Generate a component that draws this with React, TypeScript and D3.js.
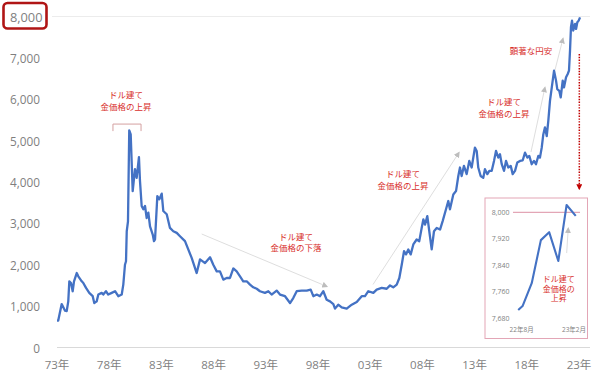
import React from 'react';
import * as d3 from 'd3';

// Gold price (JPY per gram)
const dates = [
  1973.00, 1973.12, 1973.45, 1973.77, 1973.93, 1974.08, 1974.18, 1974.34, 1974.50, 1974.63,
  1974.89, 1975.04, 1975.37, 1975.52, 1975.78, 1976.09, 1976.42, 1976.57, 1976.80, 1976.96,
  1977.28, 1977.43, 1977.69, 1977.91, 1978.24, 1978.56, 1978.87, 1979.20, 1979.35, 1979.51,
  1979.61, 1979.68, 1979.80, 1979.92, 1980.06, 1980.25, 1980.47, 1980.63, 1980.85, 1980.95,
  1981.11, 1981.27, 1981.43, 1981.59, 1981.75, 1981.91, 1982.17, 1982.29, 1982.39, 1982.61,
  1982.80, 1983.03, 1983.18, 1983.51, 1983.82, 1984.14, 1984.47, 1984.78, 1985.26, 1985.90,
  1986.38, 1986.70, 1987.18, 1987.66, 1987.97, 1988.30, 1988.61, 1988.93, 1989.25, 1989.57,
  1989.89, 1990.21, 1990.53, 1990.84, 1991.17, 1991.49, 1991.80, 1992.13, 1992.44, 1992.92,
  1993.24, 1993.56, 1994.04, 1994.36, 1994.84, 1995.32, 1995.63, 1995.96, 1996.44, 1996.92,
  1997.30, 1997.55, 1997.88, 1998.19, 1998.51, 1998.83, 1999.15, 1999.47, 1999.63, 1999.94,
  2000.27, 2000.75, 2001.23, 2001.71, 2002.19, 2002.50, 2002.82, 2003.30, 2003.62, 2004.10,
  2004.58, 2004.90, 2005.21, 2005.54, 2005.79, 2006.02, 2006.24, 2006.43, 2006.65, 2006.88,
  2007.13, 2007.45, 2007.70, 2007.93, 2008.09, 2008.25, 2008.47, 2008.66, 2008.89, 2009.11,
  2009.37, 2009.69, 2009.94, 2010.26, 2010.48, 2010.64, 2010.96, 2011.22, 2011.44, 2011.60,
  2011.76, 2011.98, 2012.24, 2012.49, 2012.72, 2013.03, 2013.20, 2013.35, 2013.58, 2013.83,
  2013.99, 2014.22, 2014.41, 2014.64, 2014.86, 2015.05, 2015.27, 2015.43, 2015.60, 2015.82,
  2016.01, 2016.23, 2016.46, 2016.65, 2016.87, 2017.09, 2017.35, 2017.61, 2017.83, 2018.05,
  2018.24, 2018.47, 2018.69, 2018.88, 2019.10, 2019.26, 2019.43, 2019.58, 2019.74, 2019.91,
  2020.06, 2020.22, 2020.48, 2020.61, 2020.80, 2020.92, 2021.11, 2021.25, 2021.44, 2021.56,
  2021.76, 2021.92, 2022.04, 2022.14, 2022.23, 2022.33, 2022.45, 2022.62, 2022.72, 2022.84,
  2022.97, 2023.10,
];
const prices = [
  650, 650, 1050, 890, 880, 1115, 1600, 1560, 1360, 1600,
  1800, 1720, 1600, 1560, 1440, 1320, 1240, 1075, 1115, 1280,
  1320, 1280, 1360, 1280, 1320, 1360, 1240, 1280, 1520, 2000,
  2085, 2810, 3050, 5250, 5150, 3780, 4310, 4100, 4600, 4020,
  3420, 3340, 3420, 3130, 3260, 2930, 2730, 2570, 2610, 3660,
  3580, 3720, 3300, 3220, 2890, 2810, 2770, 2690, 2570, 2165,
  1800, 2130, 2040, 2180, 2000, 1840, 1840, 1640, 1680, 1680,
  1910, 1840, 1720, 1600, 1600, 1520, 1455, 1420, 1360, 1320,
  1360, 1280, 1375, 1280, 1240, 1075, 1195, 1360, 1375, 1375,
  1400, 1240, 1280, 1240, 1360, 1155, 1115, 1050, 940, 1035,
  970, 940, 1035, 1100, 1240, 1240, 1360, 1320, 1400, 1440,
  1420, 1500, 1455, 1520, 1680, 2000, 2330, 2250, 2370, 2250,
  2490, 2610, 2570, 2890, 3095, 2970, 3175, 2810, 2370, 2810,
  2890, 2850, 3055, 3340, 3540, 3340, 3700, 3780, 4145, 4350,
  4145, 4390, 4190, 4510, 4350, 4830, 4750, 4350, 4145, 4100,
  4310, 4190, 4270, 4270, 4510, 4750, 4590, 4670, 4430, 4270,
  4510, 4350, 4390, 4190, 4270, 4470, 4510, 4525, 4710, 4590,
  4630, 4430, 4510, 4430, 4630, 4590, 4830, 5150, 5320, 5110,
  5480, 5960, 6450, 6690, 6450, 6245, 6205, 6045, 6450, 6285,
  6530, 6610, 6690, 7175, 7740, 7900, 7660, 7820, 7700, 7860,
  7900, 7980,
];

const yTicks = [0, 1000, 2000, 3000, 4000, 5000, 6000, 7000, 8000];
const xTickYears = [1973, 1978, 1983, 1988, 1993, 1998, 2003, 2008, 2013, 2018, 2023];
const xTickLabels = ['73年', '78年', '83年', '88年', '93年', '98年', '03年', '08年', '13年', '18年', '23年'];

// Inset: Aug 2022 – Feb 2023 (months after Aug 2022)
const insetMonths = [-0.4, 0.1, 1.15, 2.2, 3.15, 4.2, 5.15, 6.2];
const insetPrices = [7705, 7717, 7786, 7916, 7940, 7853, 8022, 7989];
const insetYTicks = [7680, 7760, 7840, 7920, 8000];
const insetXTicks = [0, 6];
const insetXLabels = ['22年8月', '23年2月'];

const annRise = ['ドル建て', '金価格の上昇'];
const annFall = ['ドル建て', '金価格の下落'];
const annYen = '顕著な円安';
const annInset = ['ドル建て', '金価格の', '上昇'];

const axisFont = "'Open Sans', 'Noto Sans CJK JP', sans-serif";
const jpFont = "'Noto Sans CJK JP', sans-serif";
const red = '#d8302c';
const gray = '#7f7f7f';

export default function App() {
  const x = d3.scaleLinear().domain([1973, 2023]).range([57, 579]);
  const y = d3.scaleLinear().domain([0, 8000]).range([347.5, 16.5]);
  const line = d3
    .line<number>()
    .x((_, i) => x(dates[i]))
    .y((d) => y(d))
    .curve(d3.curveLinear);

  const ix = d3.scaleLinear().domain([0, 6]).range([521.7, 574]);
  const iy = d3.scaleLinear().domain([7680, 8000]).range([318.3, 212.3]);
  const iline = d3
    .line<number>()
    .x((_, i) => ix(insetMonths[i]))
    .y((d) => iy(d));

  const multiLine = (lines: string[], cx: number, cy: number, gap = 11.5, size = 8.5) => (
    <text fontFamily={jpFont} fontSize={size} fill={red} textAnchor="middle">
      {lines.map((l, i) => (
        <tspan key={i} x={cx} y={cy + i * gap} dominantBaseline="central">
          {l}
        </tspan>
      ))}
    </text>
  );

  const arrow = (t0: number, v0: number, t1: number, v1: number, key: string) => (
    <line
      key={key}
      x1={x(t0)}
      y1={y(v0)}
      x2={x(t1)}
      y2={y(v1)}
      stroke="#dedede"
      strokeWidth={1}
      markerEnd="url(#grayHead)"
    />
  );

  return (
    <svg
      width={600}
      height={372}
      style={{ position: 'absolute', left: 0, top: 0, background: '#fff' }}
    >
      <defs>
        <marker id="grayHead" viewBox="0 0 10 10" refX="8" refY="5" markerWidth="6" markerHeight="6" orient="auto">
          <path d="M0,0 L10,5 L0,10 z" fill="#bdbdbd" />
        </marker>
        <marker id="redHead" viewBox="0 0 10 10" refX="8" refY="5" markerWidth="4" markerHeight="4" orient="auto">
          <path d="M0,0 L10,5 L0,10 z" fill="#c00000" />
        </marker>
      </defs>
      <rect width={600} height={372} fill="#fff" />

      {/* top gridline and baseline */}
      <line x1={52} x2={590} y1={y(8000)} y2={y(8000)} stroke="#ececec" strokeWidth={1} />
      <line x1={57} x2={590} y1={y(0)} y2={y(0)} stroke="#d9d9d9" strokeWidth={1} />

      {/* y tick labels */}
      {yTicks.map((t) => (
        <text
          key={t}
          x={t === 8000 ? 42.5 : 40}
          y={y(t)}
          textAnchor="end"
          dominantBaseline="central"
          fontFamily={axisFont}
          fontSize={t === 8000 ? 12.8 : 11.8}
          fill={gray}
        >
          {d3.format(',')(t)}
        </text>
      ))}
      <rect x={3.5} y={3} width={43} height={25.5} rx={4} ry={4} fill="none" stroke="#b01515" strokeWidth={2.6} />

      {/* x tick labels */}
      {xTickYears.map((t, i) => (
        <text
          key={t}
          x={x(t)}
          y={364}
          textAnchor="middle"
          dominantBaseline="central"
          fontFamily={axisFont}
          fontSize={11.5}
          fill={gray}
        >
          {xTickLabels[i]}
        </text>
      ))}

      {/* annotation arrows */}
      {arrow(1986.86, 2743, 1998.86, 1474, 'a2')}
      {arrow(2003.27, 1523, 2011.51, 4713, 'a3')}
      {arrow(2018.4, 4725, 2019.74, 6284, 'a4')}
      {arrow(2020.7, 6707, 2021.47, 7468, 'a5')}

      {/* main series */}
      <path d={line(prices) || ''} fill="none" stroke="#4472c4" strokeWidth={2.3} strokeLinejoin="round" />

      {/* bracket over 1980 peak */}
      <path
        d={`M${x(1978.36)},${y(5230)} V${y(5400)} H${x(1981.05)} V${y(5230)}`}
        fill="none"
        stroke="#d4a0a0"
        strokeWidth={1}
      />

      {multiLine(annRise, x(1979.6), y(6120))}
      {multiLine(annFall, x(1995.9), y(2695))}
      {multiLine(annRise, x(2006.14), y(4217))}
      {multiLine(annRise, x(2015.82), y(5946))}
      <text
        x={x(2018.4)}
        y={y(7190)}
        textAnchor="middle"
        dominantBaseline="central"
        fontFamily={jpFont}
        fontSize={8.5}
        fill={red}
      >
        {annYen}
      </text>

      {/* red dotted pointer to inset */}
      <line
        x1={x(2023.03)}
        x2={x(2023.03)}
        y1={y(7094)}
        y2={y(3831)}
        stroke="#c00000"
        strokeWidth={1.5}
        strokeDasharray="1.4,1.4"
        markerEnd="url(#redHead)"
      />

      {/* inset */}
      <rect x={485} y={198} width={102.5} height={140.5} fill="#fff" stroke="#e3a6b6" strokeWidth={1} />
      <line x1={ix(-1.0)} x2={ix(6.69)} y1={iy(8000)} y2={iy(8000)} stroke="#e3a6b6" strokeWidth={1.2} />
      {insetYTicks.map((t) => (
        <text
          key={t}
          x={509.5}
          y={iy(t)}
          textAnchor="end"
          dominantBaseline="central"
          fontFamily={axisFont}
          fontSize={7}
          fill={gray}
        >
          {d3.format(',')(t)}
        </text>
      ))}
      {insetXTicks.map((t, i) => (
        <text
          key={t}
          x={ix(t)}
          y={329.5}
          textAnchor="middle"
          dominantBaseline="central"
          fontFamily={axisFont}
          fontSize={6.5}
          fill={gray}
        >
          {insetXLabels[i]}
        </text>
      ))}
      <line
        x1={ix(5.16)}
        y1={iy(7877)}
        x2={ix(5.34)}
        y2={iy(7952)}
        stroke="#dedede"
        strokeWidth={1}
        markerEnd="url(#grayHead)"
      />
      <path d={iline(insetPrices) || ''} fill="none" stroke="#4472c4" strokeWidth={2.1} strokeLinejoin="round" />
      {multiLine(annInset, ix(4.24), iy(7801), 9.8, 8)}
    </svg>
  );
}
